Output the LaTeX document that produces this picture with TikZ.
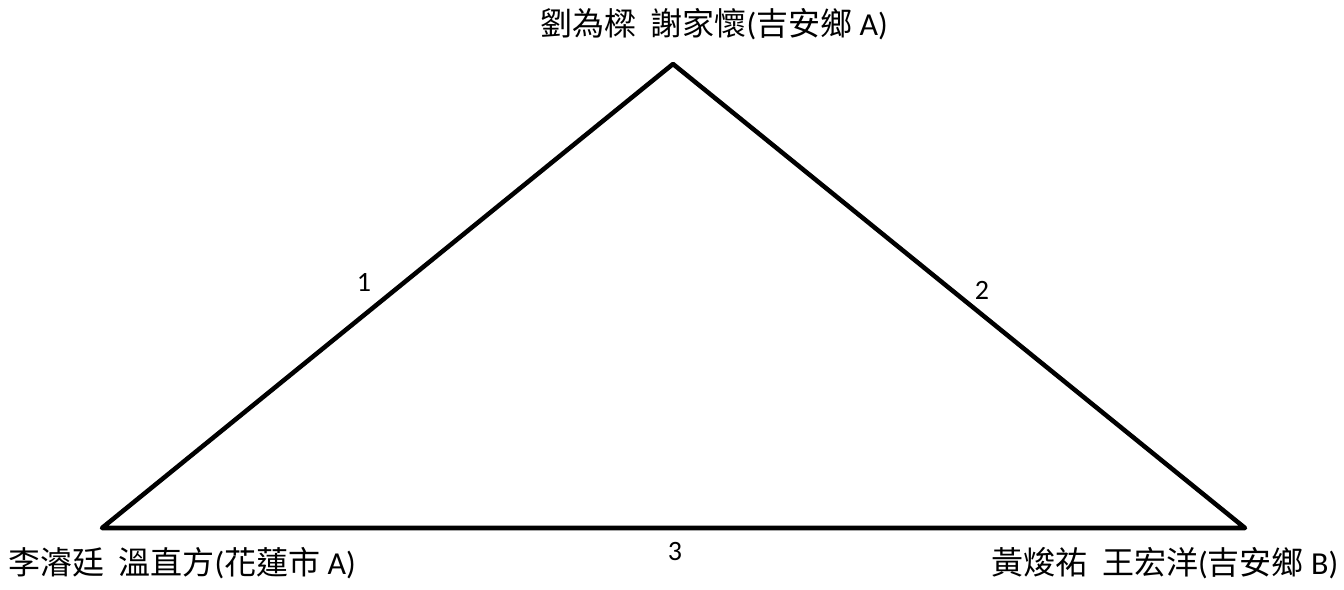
\documentclass[tikz,border=0pt]{standalone}
\usepackage{fontspec}
\setmainfont{Carlito}
\newfontfamily\cjk{Noto Sans CJK TC}
\newcommand{\zh}[1]{{\cjk #1}}

\begin{document}
\begin{tikzpicture}[x=0.75pt,y=-0.75pt,auto=center]
			\useasboundingbox (0,0) rectangle (1344,589);
			\tikzset{teamlabel/.style={font=\fontsize{24}{28}\selectfont, inner sep=0pt, anchor=base},
				edgenum/.style={font=\fontsize{21}{25}\selectfont, inner sep=0pt}}

			\coordinate (top) at (673,64);
			\coordinate (left) at (102,528);
			\coordinate (right) at (1245,528);
			\draw[line width=3.4pt, line join=round] (left) -- (top) -- (right) -- cycle;

			\node[teamlabel] (ntop) at (714,35) {\zh{劉為樑\ \ 謝家懷}(\zh{吉安鄉} A)};
			\node[teamlabel] (nleft) at (182,574) {\zh{李濬廷\ \ 溫直方}(\zh{花蓮市} A)};
			\node[teamlabel] (nright) at (1165,574) {\zh{黃焌祐\ \ 王宏洋}(\zh{吉安鄉} B)};

			\node[edgenum] (e1) at (364,282) {1};
			\node[edgenum] (e2) at (982,290) {2};
			\node[edgenum] (e3) at (675,552) {3};
		\end{tikzpicture}
\end{document}
